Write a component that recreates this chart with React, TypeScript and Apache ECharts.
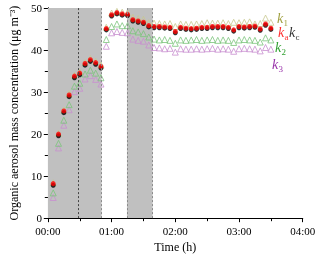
import React, { useEffect, useRef } from "react";
import * as echarts from "echarts";

const timesMin = [5, 10, 15, 20, 25, 30, 35, 40, 45, 50, 55, 60, 65, 70, 75, 80, 85, 90, 95, 100, 105, 110, 115, 120, 125, 130, 135, 140, 145, 150, 155, 160, 165, 170, 175, 180, 185, 190, 195, 200, 205, 210];

const kaValues = [8.2, 20.0, 25.5, 29.3, 33.8, 34.5, 36.8, 37.7, 37.0, 36.1, 45.1, 48.4, 48.9, 48.6, 48.5, 47.2, 46.9, 46.6, 45.8, 45.6, 45.6, 45.5, 45.4, 44.4, 45.4, 45.2, 45.1, 45.2, 45.4, 45.4, 45.6, 45.6, 45.6, 45.4, 44.8, 45.6, 45.5, 45.6, 45.7, 45.0, 46.2, 45.2];

const kcValues = [7.8, 19.6, 25.1, 28.9, 33.4, 34.1, 36.4, 37.3, 36.6, 35.7, 44.8, 48.1, 48.6, 48.3, 48.2, 46.9, 46.6, 46.3, 45.5, 45.3, 45.3, 45.2, 45.1, 44.1, 45.1, 44.9, 44.8, 44.9, 45.1, 45.1, 45.3, 45.3, 45.3, 45.1, 44.5, 45.3, 45.2, 45.3, 45.4, 44.7, 45.9, 44.9];

const k1Values = [8.4, 20.2, 25.7, 29.6, 34.0, 34.8, 37.0, 38.0, 37.3, 36.4, 45.4, 48.8, 49.2, 49.0, 48.9, 47.8, 47.5, 47.3, 46.5, 46.4, 46.3, 46.2, 46.3, 45.6, 46.2, 46.1, 46.1, 46.2, 46.3, 46.5, 46.4, 46.4, 46.5, 46.3, 46.6, 46.5, 46.6, 46.7, 46.2, 46.3, 47.6, 46.6];

const k2Values = [6.0, 17.8, 23.3, 27.0, 31.4, 32.1, 34.3, 35.2, 34.5, 33.4, 42.5, 45.6, 46.2, 45.8, 45.8, 44.6, 44.3, 43.9, 43.1, 42.6, 42.4, 42.5, 42.3, 41.6, 42.4, 42.3, 42.4, 42.5, 42.3, 42.4, 42.5, 42.3, 42.4, 42.3, 41.8, 42.4, 42.5, 42.4, 42.3, 41.9, 42.9, 42.4];

const k3Values = [4.9, 16.7, 22.1, 25.8, 30.1, 30.9, 33.1, 33.9, 33.0, 31.9, 40.9, 44.1, 44.4, 44.2, 44.1, 42.6, 42.3, 42.1, 41.2, 40.6, 40.5, 40.3, 40.4, 39.5, 40.3, 40.2, 40.2, 40.3, 40.2, 40.3, 40.4, 40.2, 40.3, 40.2, 39.7, 40.3, 40.4, 40.3, 40.2, 39.8, 40.6, 40.2];

// shaded periods and marker lines, in hours
const shadedPeriods = [[0, 0.843], [1.241, 1.644]];
const darkLineAt = [0.484];
const lightLinesAt = [0.843, 1.241, 1.644];

const xTickLabels = ["00:00", "01:00", "02:00", "03:00", "04:00"];

const FONT = "Liberation Serif";

function pairs(vals: number[]) {
  return vals.map((v, i) => [timesMin[i] / 60, v]);
}

export default function App() {
  const ref = useRef<HTMLDivElement>(null);
  useEffect(() => {
    if (!ref.current) return;
    const chart = echarts.init(ref.current, null, { renderer: "svg" });
    const axisLine = { show: true, lineStyle: { color: "#000", width: 1 } };
    const tri = (color: string) => ({
      color: "rgba(0,0,0,0)",
      borderColor: color,
      borderWidth: 1,
    });
    const legendItem = (x: number, y: number, sub: string, color: string) => ({
      type: "group",
      x,
      y,
      children: [
        {
          type: "text",
          x: 0,
          y: 0,
          style: { text: "k", fill: color, font: `italic 14px ${FONT}` },
        },
        {
          type: "text",
          x: 6.5,
          y: 7,
          style: { text: sub, fill: color, font: `9px ${FONT}` },
        },
      ],
    });
    chart.setOption({
      animation: false,
      grid: { left: 41.7, right: 17.3, top: 8, bottom: 37 },
      xAxis: [
        {
          type: "value",
          min: 0,
          max: 4,
          interval: 1,
          position: "bottom",
          name: "Time (h)",
          nameLocation: "middle",
          nameGap: 22,
          nameTextStyle: { fontFamily: FONT, fontSize: 12, color: "#000" },
          axisLine,
          axisTick: { show: true, inside: false, length: 4, lineStyle: { color: "#000" } },
          minorTick: { show: true, splitNumber: 2, length: 3, lineStyle: { color: "#000" } },
          splitLine: { show: false },
          axisLabel: {
            fontFamily: FONT,
            fontSize: 11,
            color: "#000",
            margin: 7,
            formatter: (v: number) => xTickLabels[Math.round(v)] ?? "",
          },
        },
        {
          type: "value",
          min: 0,
          max: 4,
          interval: 1,
          position: "top",
          axisLine,
          axisTick: { show: true, inside: true, length: 4, lineStyle: { color: "#000" } },
          minorTick: { show: true, splitNumber: 2, length: 3, lineStyle: { color: "#000" } },
          splitLine: { show: false },
          axisLabel: { show: false },
        },
      ],
      yAxis: [
        {
          type: "value",
          min: 0,
          max: 50,
          interval: 10,
          position: "left",
          name: "Organic aerosol mass concentration (μg m⁻³)",
          nameLocation: "middle",
          nameGap: 27,
          nameTextStyle: { fontFamily: FONT, fontSize: 12, color: "#000" },
          axisLine,
          axisTick: { show: true, inside: false, length: 4, lineStyle: { color: "#000" } },
          minorTick: { show: true, splitNumber: 2, length: 3, lineStyle: { color: "#000" } },
          splitLine: { show: false },
          axisLabel: { fontFamily: FONT, fontSize: 11, color: "#000", margin: 6 },
        },
        {
          type: "value",
          min: 0,
          max: 50,
          interval: 10,
          position: "right",
          axisLine,
          axisTick: { show: true, inside: true, length: 4, lineStyle: { color: "#000" } },
          minorTick: { show: true, splitNumber: 2, length: 3, lineStyle: { color: "#000" } },
          splitLine: { show: false },
          axisLabel: { show: false },
        },
      ],
      series: [
        {
          type: "scatter",
          name: "k3",
          symbol: "triangle",
          symbolSize: 6,
          itemStyle: tri("#c88ed0"),
          data: pairs(k3Values),
          markArea: {
            silent: true,
            itemStyle: { color: "#c0c0c0" },
            data: shadedPeriods.map((p) => [{ xAxis: p[0] }, { xAxis: p[1] }]),
          },
          markLine: {
            silent: true,
            symbol: "none",
            label: { show: false },
            data: [
              ...darkLineAt.map((x) => ({
                xAxis: x,
                lineStyle: { color: "#444", type: [2, 2], width: 1 },
              })),
              ...lightLinesAt.map((x) => ({
                xAxis: x,
                lineStyle: { color: "#8a8a8a", type: [2, 2], width: 1 },
              })),
            ],
          },
        },
        {
          type: "scatter",
          name: "k2",
          symbol: "triangle",
          symbolSize: 6,
          itemStyle: tri("#7cc47c"),
          data: pairs(k2Values),
        },
        {
          type: "scatter",
          name: "k1",
          symbol: "triangle",
          symbolSize: 6,
          itemStyle: tri("#c8c890"),
          data: pairs(k1Values),
        },
        {
          type: "scatter",
          name: "kc",
          symbol: "circle",
          symbolSize: 5,
          itemStyle: { color: "#000" },
          data: pairs(kcValues),
        },
        {
          type: "scatter",
          name: "ka",
          symbol: "circle",
          symbolSize: 5,
          itemStyle: { color: "#ff0000" },
          data: pairs(kaValues),
        },
      ],
      graphic: [
        legendItem(277, 11, "1", "#a0a040"),
        legendItem(278, 25, "a", "#ff3030"),
        legendItem(289, 25, "c", "#333"),
        legendItem(275, 40, "2", "#30a030"),
        legendItem(272, 57, "3", "#9933aa"),
      ],
    });
    return () => chart.dispose();
  }, []);
  return (
    <div
      ref={ref}
      style={{ position: "fixed", left: 0, top: 0, width: 320, height: 258 }}
    />
  );
}
